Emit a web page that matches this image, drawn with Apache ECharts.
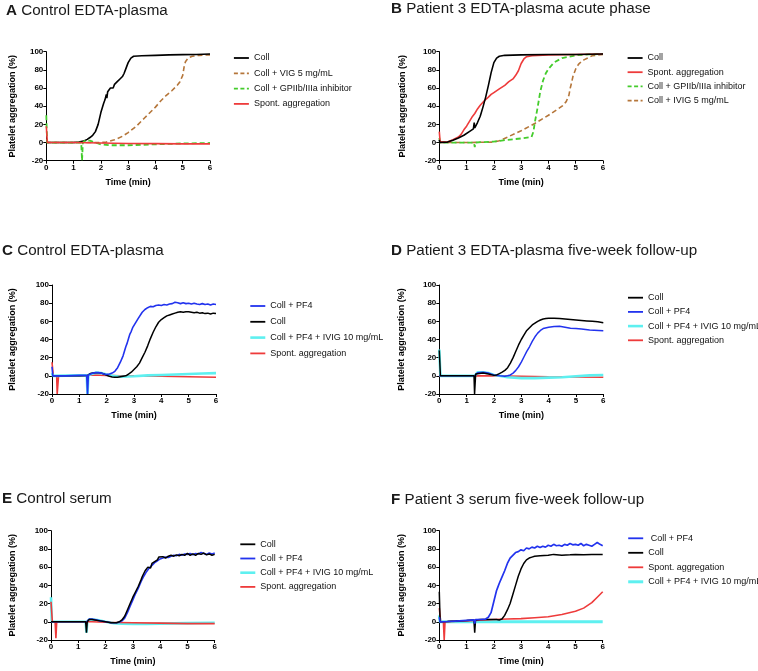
<!DOCTYPE html>
<html><head><meta charset="utf-8">
<script src="https://cdn.jsdelivr.net/npm/echarts@6/dist/echarts.min.js"></script>
<style>html,body{margin:0;padding:0;background:#fff}#c{width:758px;height:671px}</style>
</head><body><div id="c"></div>
<script>
// ---------- Data (time in min, aggregation in %) ----------
const xTicks = [0, 1, 2, 3, 4, 5, 6];
const yTicks = [-20, 0, 20, 40, 60, 80, 100];

// Panel A
const A_coll = [[0,0],[0.5,0],[1.0,0],[1.2,0.5],[1.4,2],[1.5,3.5],[1.6,5.5],[1.7,8],[1.8,12],[1.9,20],[2.0,33],[2.05,38],[2.1,43],[2.15,47],[2.2,53],[2.22,49],[2.25,56],[2.3,55],[2.35,60],[2.4,61],[2.45,60],[2.5,64],[2.6,67],[2.7,70],[2.75,69],[2.8,73],[2.85,76],[2.9,80],[3.0,88],[3.1,93],[3.2,95],[3.5,95.5],[4,96],[4.5,96.5],[5,96.8],[5.5,97],[6,97.5]];
const A_vig = [[0,0],[1.0,0],[2.0,0],[2.2,0.5],[2.5,3],[2.8,7],[3.0,11],[3.3,18],[3.6,27],[4.0,39],[4.2,46],[4.4,52],[4.6,57],[4.8,63],[4.9,67],[5.0,74],[5.05,83],[5.1,89],[5.2,93],[5.35,95],[5.6,96],[6,96.5]];
const A_gp = [[0,30],[0.03,0],[1.0,0],[1.28,0],[1.31,-20],[1.34,0],[1.45,2.5],[1.6,2],[1.8,0],[2.0,-2],[2.3,-3],[3,-3],[4,-2],[5,-1],[6,-0.5]];
const A_sp = [[0,18],[0.04,0],[1,0],[2,-0.5],[3,-1],[4,-1.2],[5,-1.5],[6,-1.5]];

// Panel B
const B_coll = [[0,3],[0.02,0],[0.3,0.5],[0.5,2.5],[0.7,5],[0.9,8],[1.1,12],[1.25,15],[1.28,22],[1.3,16],[1.4,22],[1.5,29],[1.6,39],[1.7,50],[1.8,63],[1.9,77],[2.0,88],[2.1,93],[2.2,95],[2.4,96],[3,96.5],[4,97],[5,97],[6,97.4]];
const B_sp = [[0,12],[0.03,1],[0.3,0.5],[0.5,3],[0.7,6],[0.8,9],[0.9,14],[1.0,18],[1.1,23],[1.2,28],[1.3,32],[1.4,37],[1.5,41],[1.65,46],[1.8,50],[1.9,53],[2.0,55],[2.2,59],[2.4,63],[2.55,67],[2.7,70],[2.8,74],[2.9,79],[3.0,87],[3.1,92],[3.2,94.5],[3.4,95.5],[4,96.5],[5,97],[6,97.5]];
const B_gp = [[0,5],[0.03,0],[0.5,0],[1.0,0],[1.27,0],[1.3,-5],[1.33,0],[1.6,0.5],[2.0,1],[2.5,3],[3.0,4.5],[3.38,6],[3.45,12],[3.5,22],[3.6,38],[3.7,56],[3.8,68],[3.9,76],[4.0,81],[4.2,88],[4.5,93],[5,96],[5.5,97],[6,97.5]];
const B_iv = [[0,0],[1,0],[2.0,0.5],[2.2,2],[2.5,6],[3.0,13],[3.5,21],[4.0,30],[4.3,36],[4.5,40],[4.65,45],[4.75,52],[4.8,60],[4.85,66],[4.9,73],[5.0,81],[5.1,86],[5.2,89],[5.3,91],[5.6,95.5],[6,97]];

// Panel C
const C_pf4 = [[0,10],[0.03,0],[0.5,0],[1.0,0.5],[1.27,0.5],[1.3,-20],[1.33,1],[1.4,2],[1.5,3],[1.6,3.5],[1.7,3.5],[1.8,3],[1.9,2],[2.0,1.5],[2.1,2],[2.2,3],[2.3,5],[2.4,9],[2.5,15],[2.6,22],[2.7,32],[2.75,36],[2.8,41],[2.85,46],[2.9,49],[2.95,53],[3.0,55],[3.05,58],[3.1,60],[3.15,63],[3.2,65],[3.3,70],[3.4,73],[3.5,75],[3.6,76.5],[3.7,76],[3.8,77.5],[3.9,78],[4.0,77.5],[4.1,78.5],[4.2,78],[4.3,79],[4.4,79.5],[4.5,81],[4.55,80],[4.6,80.5],[4.7,79.5],[4.8,80.5],[4.9,79.5],[5.0,80],[5.1,79],[5.2,80],[5.3,79],[5.4,78.5],[5.5,79.5],[5.6,78.5],[5.7,79],[5.8,78],[5.9,79],[6.0,78.5]];
const C_coll = [[0,0],[0.5,0],[1.0,0],[1.3,0.5],[1.4,2.5],[1.5,3],[1.6,3.5],[1.7,3.5],[1.8,3],[1.9,2],[2.0,0.5],[2.1,-0.5],[2.2,-1.2],[2.3,-1.5],[2.4,-1.5],[2.5,-1],[2.6,-0.5],[2.7,0],[2.8,2],[2.9,4],[3.0,7],[3.1,10],[3.2,14],[3.3,20],[3.4,26],[3.5,33],[3.6,41],[3.7,48],[3.8,54],[3.9,59],[4.0,62],[4.1,64],[4.2,66],[4.3,67],[4.4,68],[4.5,69],[4.6,70],[4.7,70.5],[4.8,70],[4.9,70.5],[5.0,70.5],[5.1,70],[5.2,69.5],[5.3,70],[5.4,69],[5.5,69.5],[5.6,68.5],[5.7,69],[5.8,68],[5.9,69],[6.0,68.5]];
const C_cy = [[0,3],[0.03,0],[1.0,0.5],[1.27,0.5],[1.3,-20],[1.33,1],[1.4,2.5],[1.6,3.5],[1.8,3],[2.0,1.5],[2.2,0],[2.5,-1],[3.0,-0.5],[3.5,0.5],[4,1],[4.5,1.5],[5,2],[5.5,2.5],[6,3]];
const C_sp = [[0,15],[0.05,0],[0.17,0],[0.19,-20],[0.22,-20],[0.24,0],[1,0],[1.5,1],[2,0.5],[2.5,0],[3,0],[4,-0.5],[5,-1],[6,-1.5]];

// Panel D
const D_coll = [[0,28],[0.04,0],[0.5,0],[1.0,0],[1.27,0],[1.29,-20],[1.31,-20],[1.33,2],[1.4,3],[1.6,3],[1.8,2],[2.0,0.5],[2.1,1],[2.2,2.5],[2.3,4],[2.4,6],[2.5,9],[2.6,14],[2.7,20],[2.8,27],[2.9,34],[3.0,40],[3.1,45],[3.2,50],[3.3,53],[3.4,56],[3.5,58],[3.6,60],[3.7,61.5],[3.8,62.5],[3.9,63],[4.0,63.5],[4.2,63.5],[4.4,63],[4.6,62.5],[4.8,62],[5.0,61.5],[5.2,61],[5.4,60.5],[5.6,60],[5.8,59.5],[6.0,58.5]];
const D_pf4 = [[0,0],[1.0,0],[1.3,0],[1.4,3.5],[1.6,4],[1.8,3],[2.0,1],[2.2,0],[2.4,-0.5],[2.5,0],[2.6,1],[2.7,3],[2.8,6],[2.9,10],[3.0,15],[3.1,21],[3.2,27],[3.3,32],[3.4,38],[3.5,43],[3.6,47],[3.7,50],[3.8,52],[4.0,53.5],[4.2,54.3],[4.4,54.5],[4.6,53.5],[4.8,52.5],[5.0,52],[5.2,51.5],[5.5,50.5],[6.0,49.5]];
const D_cy = [[0,29],[0.04,0],[1.0,0],[1.3,0],[1.4,4],[1.6,4],[1.8,3],[2.0,1],[2.3,-0.5],[2.5,-1.5],[3.0,-2.5],[3.5,-2.5],[4.0,-2],[4.5,-1.5],[5.0,-0.5],[5.5,0.5],[6.0,1]];
const D_sp = [[0,0],[1.3,0],[2,0],[3,-0.5],[4,-1],[5,-1.3],[6,-1.5]];

// Panel E
const E_coll = [[0,0],[0.5,0],[1.0,0],[1.27,0],[1.3,-12],[1.33,0],[1.4,2.5],[1.5,2.5],[1.6,2],[1.8,1],[2.0,0],[2.2,-1],[2.4,-1],[2.5,0],[2.6,2],[2.7,6],[2.8,13],[2.9,20],[3.0,27],[3.05,29],[3.1,33],[3.2,39],[3.3,46],[3.35,50],[3.4,52],[3.45,56],[3.5,57],[3.55,60],[3.6,61],[3.65,59],[3.7,64],[3.8,66],[3.9,68],[3.95,71],[4.0,70],[4.1,71.5],[4.2,70],[4.3,72],[4.35,70.5],[4.4,73],[4.5,72],[4.6,73.5],[4.7,72.5],[4.8,74],[4.9,73],[5.0,75],[5.1,73],[5.2,74.5],[5.3,73],[5.4,75],[5.5,74],[5.6,75.5],[5.7,73.5],[5.8,74.5],[5.9,73],[6.0,74]];
const E_pf4 = [[0,0],[1,0],[1.3,0],[1.4,3],[1.5,3],[1.6,2.5],[1.8,1],[2.0,0],[2.2,-1],[2.4,-1],[2.5,-0.5],[2.6,1],[2.7,4],[2.8,10],[2.9,17],[3.0,24],[3.1,31],[3.2,37],[3.3,44],[3.4,50],[3.5,55],[3.6,59],[3.7,62],[3.8,65],[3.9,67],[4.0,69],[4.1,70],[4.2,71],[4.3,70.5],[4.4,72],[4.5,73],[4.6,72.5],[4.7,74],[4.8,73],[4.9,74.5],[5.0,74],[5.1,75],[5.2,73.5],[5.3,75],[5.4,74.5],[5.5,76],[5.6,75],[5.7,74],[5.8,75.5],[5.9,74.5],[6.0,75.5]];
const E_cy = [[0,27],[0.03,0],[0.5,0],[1.0,0],[1.27,0],[1.3,-12],[1.33,0],[1.4,2.5],[1.5,2.5],[1.7,2],[2.0,0],[2.3,-1.5],[2.6,-2],[3.0,-2.5],[3.5,-2.5],[4.0,-2],[5.0,-1.5],[6.0,-1]];
const E_sp = [[0,22],[0.05,0],[0.15,0],[0.18,-18],[0.21,0],[0.5,0],[1,0],[1.5,0],[2,-0.5],[3,-1],[4,-1.5],[5,-2],[6,-2]];

// Panel F
const F_pf4 = [[0,5],[0.03,0],[0.3,0.3],[0.6,0.8],[1.0,1.5],[1.27,2],[1.3,-2],[1.33,2.5],[1.5,2.5],[1.7,3],[1.8,5],[1.9,10],[2.0,22],[2.1,34],[2.15,38],[2.2,42],[2.3,49],[2.35,51],[2.4,56],[2.45,58],[2.5,64],[2.55,63],[2.6,70],[2.7,73],[2.8,76],[2.9,77],[3.0,79],[3.1,78],[3.2,81],[3.3,80],[3.4,82],[3.5,81],[3.6,83],[3.7,81.5],[3.8,83],[3.9,82],[4.0,84],[4.1,83],[4.2,85],[4.3,83.5],[4.4,84],[4.5,83],[4.6,85],[4.7,84],[4.8,86],[4.9,84.5],[5.0,85],[5.1,84],[5.2,86],[5.3,83.5],[5.4,85],[5.5,84],[5.6,83],[5.7,85],[5.8,87],[5.9,85],[6.0,83.5]];
const F_coll = [[0,33],[0.03,0],[0.3,0.3],[0.6,0.8],[1.0,1.5],[1.27,2],[1.3,-12],[1.33,2],[1.5,2.5],[1.8,2.5],[2.1,2.5],[2.2,2],[2.3,3],[2.4,7],[2.5,13],[2.6,20],[2.7,30],[2.8,40],[2.9,50],[3.0,58],[3.1,64],[3.2,68],[3.3,70],[3.4,71],[3.5,72],[3.7,72.5],[4.0,73],[4.2,74],[4.5,73],[4.8,73.5],[5.0,74],[5.3,73.5],[5.6,74],[6.0,74]];
const F_sp = [[0,15],[0.05,0],[0.15,0],[0.18,-20],[0.21,0],[0.5,0.5],[1.0,1],[1.3,1.5],[2.0,2.5],[2.5,3],[3.0,3.5],[3.5,4.5],[4.0,5.5],[4.5,8],[5.0,11.5],[5.3,15],[5.6,21],[5.8,27],[6.0,33]];
const F_cy = [[0,7],[0.03,0],[6,0]];

// Titles and legend labels
const titlesLetter = ['A','B','C','D','E','F'];
const titlesText = ['Control EDTA-plasma','Patient 3 EDTA-plasma acute phase','Control EDTA-plasma','Patient 3 EDTA-plasma five-week follow-up','Control serum','Patient 3 serum five-week follow-up'];
const legendA = ['Coll','Coll + VIG 5 mg/mL','Coll + GPIIb/IIIa inhibitor','Spont. aggregation'];
const legendB = ['Coll','Spont. aggregation','Coll + GPIIb/IIIa inhibitor','Coll + IVIG 5 mg/mL'];
const legendC = ['Coll + PF4','Coll','Coll + PF4 + IVIG 10 mg/mL','Spont. aggregation'];
const legendD = ['Coll','Coll + PF4','Coll + PF4 + IVIG 10 mg/mL','Spont. aggregation'];
const legendE = ['Coll','Coll + PF4','Coll + PF4 + IVIG 10 mg/mL','Spont. aggregation'];
const legendF = [' Coll + PF4','Coll','Spont. aggregation','Coll + PF4 + IVIG 10 mg/mL'];

// ---------- Styles / layout ----------
const COL = {black:'#000000', brown:'#b5763a', green:'#44cc2c', red:'#ee3b3b', blue:'#2233ee', cyan:'#5ef0f0'};
const FONT = 'Liberation Sans, Arial, Helvetica, sans-serif';
const layout = [
  {left:46.3, top:51.7, w:163.7, h:109, tx:6, ty:3, lx:233, ly:53, gap:5.3, ng:29},
  {left:439.3, top:51.7, w:163.7, h:109, tx:391, ty:1, lx:626.7, ly:53, gap:4.2, ng:32.5},
  {left:52, top:285, w:164, h:109, tx:2, ty:243, lx:249, ly:301, gap:5.8, ng:34.5},
  {left:439.3, top:285, w:164, h:109, tx:391, ty:243, lx:626.7, ly:292.7, gap:4.2, ng:33.5},
  {left:51, top:530.7, w:163.7, h:109.3, tx:2, ty:491, lx:239, ly:539.3, gap:4.2, ng:33.5},
  {left:439.3, top:530.7, w:163.4, h:109.3, tx:391, ty:492, lx:626.7, ly:533.3, gap:4.5, ng:33.5}
];

const panels = [
  {legend: legendA, series: [
    ['Coll + VIG 5 mg/mL', A_vig, COL.brown, 1.6, true],
    ['Coll', A_coll, COL.black, 1.6, false],
    ['Coll + GPIIb/IIIa inhibitor', A_gp, COL.green, 1.8, true],
    ['Spont. aggregation', A_sp, COL.red, 1.6, false]]},
  {legend: legendB, series: [
    ['Coll + IVIG 5 mg/mL', B_iv, COL.brown, 1.6, true],
    ['Coll + GPIIb/IIIa inhibitor', B_gp, COL.green, 1.8, true],
    ['Spont. aggregation', B_sp, COL.red, 1.6, false],
    ['Coll', B_coll, COL.black, 1.6, false]]},
  {legend: legendC, series: [
    ['Spont. aggregation', C_sp, COL.red, 1.6, false],
    ['Coll + PF4 + IVIG 10 mg/mL', C_cy, COL.cyan, 2.6, false],
    ['Coll', C_coll, COL.black, 1.5, false],
    ['Coll + PF4', C_pf4, COL.blue, 1.6, false]]},
  {legend: legendD, series: [
    ['Spont. aggregation', D_sp, COL.red, 1.6, false],
    ['Coll + PF4 + IVIG 10 mg/mL', D_cy, COL.cyan, 2.6, false],
    ['Coll + PF4', D_pf4, COL.blue, 1.5, false],
    ['Coll', D_coll, COL.black, 1.5, false]]},
  {legend: legendE, series: [
    ['Coll + PF4 + IVIG 10 mg/mL', E_cy, COL.cyan, 2.6, false],
    ['Spont. aggregation', E_sp, COL.red, 1.6, false],
    ['Coll + PF4', E_pf4, COL.blue, 1.6, false],
    ['Coll', E_coll, COL.black, 1.5, false]]},
  {legend: legendF, series: [
    ['Coll + PF4 + IVIG 10 mg/mL', F_cy, COL.cyan, 3, false],
    ['Spont. aggregation', F_sp, COL.red, 1.6, false],
    ['Coll', F_coll, COL.black, 1.5, false],
    [' Coll + PF4', F_pf4, COL.blue, 1.7, false]]}
];

const option = {animation:false, backgroundColor:'#fff', textStyle:{fontFamily:FONT},
  title:[], grid:[], xAxis:[], yAxis:[], legend:[], series:[]};

panels.forEach((p, i) => {
  const L = layout[i];
  option.title.push({text:'{b|' + titlesLetter[i] + '} ' + titlesText[i], left:L.tx, top:L.ty, padding:0,
    textStyle:{fontFamily:FONT, fontSize:15.2, fontWeight:'normal', color:'#1a1a1a',
      rich:{b:{fontFamily:FONT, fontSize:15.2, fontWeight:'bold', color:'#1a1a1a'}}}});
  option.grid.push({left:L.left, top:L.top, width:L.w, height:L.h, containLabel:false, outerBoundsMode:'none'});
  option.xAxis.push({type:'value', gridIndex:i, min:xTicks[0], max:xTicks[xTicks.length-1], interval:1,
    name:'Time (min)', nameLocation:'middle', nameGap:17,
    nameTextStyle:{fontFamily:FONT, fontSize:9, fontWeight:'bold', color:'#000'},
    axisLine:{onZero:false, lineStyle:{color:'#000', width:1}},
    axisTick:{length:3, lineStyle:{color:'#000', width:1}},
    axisLabel:{margin:3, fontFamily:FONT, fontSize:8, fontWeight:'bold', color:'#000'},
    splitLine:{show:false}});
  option.yAxis.push({type:'value', gridIndex:i, min:yTicks[0], max:yTicks[yTicks.length-1], interval:20,
    name:'Platelet aggregation (%)', nameLocation:'middle', nameGap:L.ng,
    nameTextStyle:{fontFamily:FONT, fontSize:9, fontWeight:'bold', color:'#000'},
    axisLine:{show:true, onZero:false, lineStyle:{color:'#000', width:1}},
    axisTick:{show:true, length:3, lineStyle:{color:'#000', width:1}},
    axisLabel:{margin:3, fontFamily:FONT, fontSize:8, fontWeight:'bold', color:'#000'},
    splitLine:{show:false}});
  const styleOf = {};
  p.series.forEach(s => {
    styleOf[s[0]] = s;
    option.series.push({type:'line', name:s[0], xAxisIndex:i, yAxisIndex:i, data:s[1],
      symbol:'none', showSymbol:false, clip:true, silent:true,
      lineStyle:{color:s[2], width:s[3], type:s[4] ? [5,3] : 'solid'},
      itemStyle:{color:s[2]}});
  });
  option.legend.push({orient:'vertical', left:L.lx, top:L.ly, padding:0, itemGap:L.gap,
    itemWidth:15, itemHeight:0.01, selectedMode:false,
    textStyle:{fontFamily:FONT, fontSize:9, color:'#111', lineHeight:10},
    data:p.legend.map(n => {
      const s = styleOf[n];
      return {name:n,
        itemStyle:{color:s[2], opacity:0},
        lineStyle:{color:s[2], width:Math.max(1.8, s[3]), type:s[4] ? [4,2.5] : 'solid'}};
    })});
});

const chart = echarts.init(document.getElementById('c'), null, {renderer:'canvas'});
chart.setOption(option);
</script></body></html>
